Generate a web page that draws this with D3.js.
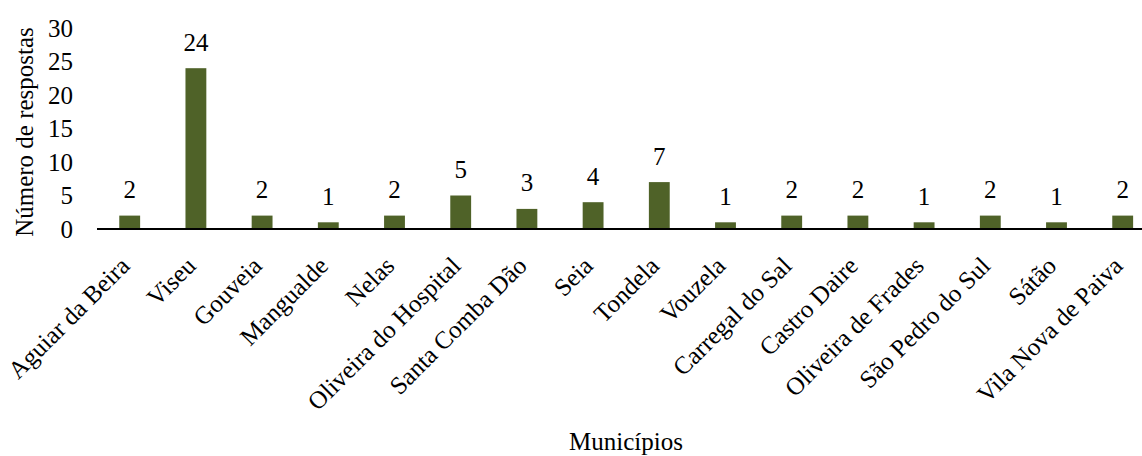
<!DOCTYPE html>
<html>
<head>
<meta charset="utf-8">
<script src="https://cdn.jsdelivr.net/npm/d3@7"></script>
<style>
  html, body { margin: 0; padding: 0; background: #ffffff; }
</style>
</head>
<body>
<svg id="chart" width="1142" height="456" font-family="Liberation Serif"></svg>
<script>
// Respostas por município
const municipios = [
  "Aguiar da Beira", "Viseu", "Gouveia", "Mangualde", "Nelas",
  "Oliveira do Hospital", "Santa Comba Dão", "Seia", "Tondela", "Vouzela",
  "Carregal do Sal", "Castro Daire", "Oliveira de Frades", "São Pedro do Sul",
  "Sátão", "Vila Nova de Paiva"
];
const respostas = [2, 24, 2, 1, 2, 5, 3, 4, 7, 1, 2, 2, 1, 2, 1, 2];
const yTicks = [0, 5, 10, 15, 20, 25, 30];

const tituloY = "Número de respostas";
const tituloX = "Municípios";

const svg = d3.select("#chart");
const fontSize = 25;
const serif = "Liberation Serif";
const barColor = "#4f6228";

const x = d3.scaleBand()
  .domain(municipios)
  .range([96.6, 1155.8])
  .paddingInner(0.685)
  .paddingOuter(0.3425);

const y = d3.scaleLinear()
  .domain([0, 30])
  .range([229, 28]);

// Barras
svg.append("g")
  .selectAll("rect")
  .data(municipios)
  .join("rect")
  .attr("x", d => x(d))
  .attr("width", x.bandwidth())
  .attr("y", (d, i) => y(respostas[i]))
  .attr("height", (d, i) => y(0) - y(respostas[i]))
  .attr("fill", barColor);

// Rótulos de valor
svg.append("g")
  .selectAll("text")
  .data(municipios)
  .join("text")
  .attr("x", d => x(d) + x.bandwidth() / 2)
  .attr("y", (d, i) => y(respostas[i]) - 17.5)
  .attr("text-anchor", "middle")
  .attr("font-family", serif)
  .attr("font-size", fontSize)
  .attr("fill", "#000")
  .text((d, i) => respostas[i]);

// Eixo Y (apenas rótulos)
const yAxis = svg.append("g")
  .attr("transform", "translate(73,0)")
  .call(d3.axisLeft(y).tickValues(yTicks).tickSize(0).tickPadding(0));
yAxis.attr("font-family", serif);
yAxis.select(".domain").remove();
yAxis.selectAll("text")
  .attr("font-family", serif)
  .attr("font-size", fontSize)
  .attr("fill", "#000");

// Eixo X
const xAxis = svg.append("g")
  .attr("transform", `translate(0,${y(0)})`)
  .call(d3.axisBottom(x).tickSize(0).tickPadding(0));
xAxis.attr("font-family", serif);
xAxis.select(".domain")
  .attr("stroke", "#000")
  .attr("stroke-width", 2)
  .attr("d", `M97,0H1142`);
xAxis.selectAll(".tick text")
  .attr("font-family", serif)
  .attr("font-size", fontSize)
  .attr("fill", "#000")
  .attr("text-anchor", "end")
  .attr("x", 0)
  .attr("y", 0)
  .attr("dy", "0.7em")
  .attr("transform", "translate(-11,26) rotate(-45)");

// Títulos dos eixos
svg.append("text")
  .attr("transform", "translate(33,132) rotate(-90)")
  .attr("text-anchor", "middle")
  .attr("font-family", serif)
  .attr("font-size", fontSize)
  .attr("fill", "#000")
  .text(tituloY);

svg.append("text")
  .attr("x", 626)
  .attr("y", 450)
  .attr("text-anchor", "middle")
  .attr("font-family", serif)
  .attr("font-size", fontSize)
  .attr("fill", "#000")
  .text(tituloX);
</script>
</body>
</html>
